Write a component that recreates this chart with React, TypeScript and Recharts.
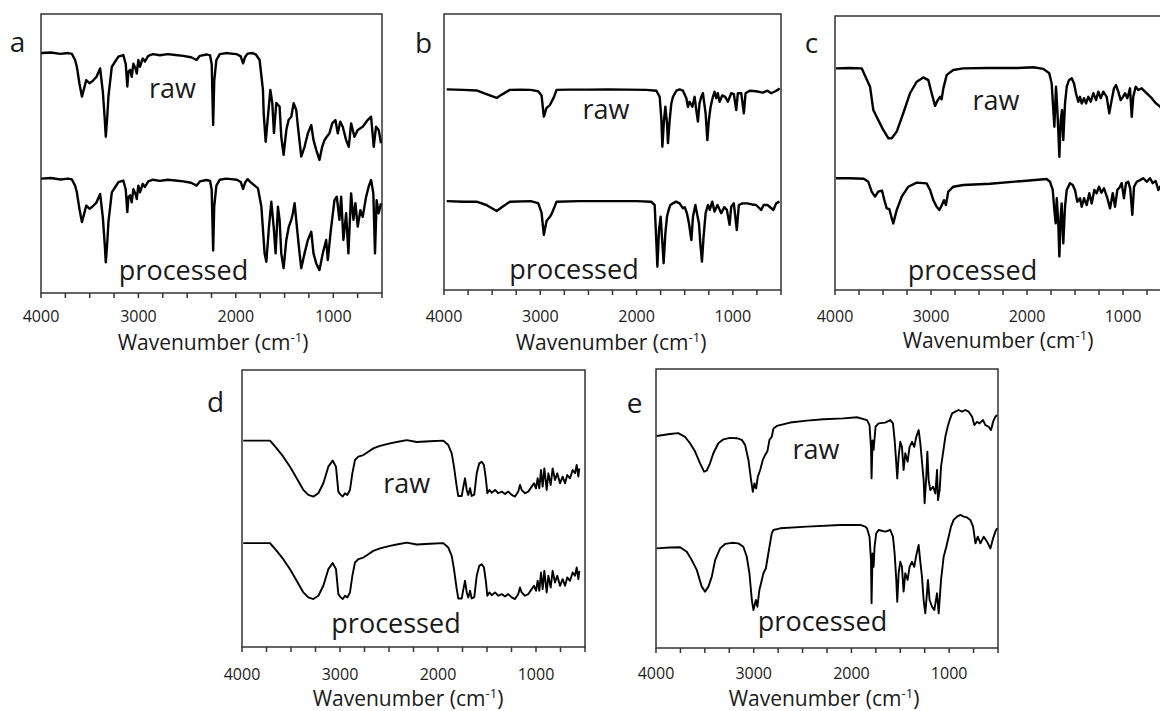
import React from "react";
import { LineChart, Line, XAxis, YAxis, ReferenceArea } from "recharts";

// wavenumber (cm-1) vs transmittance (offset, arbitrary units, 0-100 per panel box)
const TICKS = [500, 750, 1000, 1250, 1500, 1750, 2000, 2250, 2500, 2750, 3000, 3250, 3500, 3750, 4000];

const A_RAW: [number, number][] = [
  [3997, 86], [3900, 86.2], [3800, 85.7], [3720, 86], [3683, 85.7], [3650, 83.5], [3632, 81.1], [3605, 75], [3580, 70.4],
  [3560, 73], [3536, 76.3], [3503, 75.2], [3470, 76], [3430, 77.5], [3393, 80.5], [3365, 72], [3345, 62], [3335, 56],
  [3320, 63], [3308, 70.4], [3273, 81.1], [3206, 84.7], [3155, 85.3], [3130, 82], [3114, 74], [3103, 79.3], [3085, 80],
  [3069, 77.5], [3052, 82.2], [3030, 80.5], [3017, 78.7], [3001, 83.5], [2984, 81.1], [2956, 84.1], [2933, 83], [2899, 85],
  [2850, 85.6], [2780, 85.2], [2700, 85.6], [2620, 85.3], [2540, 85], [2460, 84.5], [2403, 83.5], [2370, 85], [2300, 85.5],
  [2265, 85.2], [2248, 82], [2233, 60.2], [2222, 76], [2200, 83.5], [2165, 85.6], [2100, 86], [2050, 85.8], [1990, 85.6],
  [1950, 84.8], [1926, 82.3], [1905, 84.6], [1880, 85.8], [1830, 86], [1795, 85.5], [1756, 83.5], [1722, 72.8], [1714, 64.2],
  [1694, 54.2], [1671, 63.2], [1646, 72.8], [1626, 68.1], [1609, 57.3], [1585, 68.1], [1551, 66.8], [1534, 56], [1510, 49.5],
  [1482, 58.4], [1459, 62], [1431, 63.2], [1407, 68], [1380, 65.6], [1363, 59.6], [1329, 48.9], [1295, 52.4], [1261, 57.2],
  [1226, 60.2], [1203, 54.8], [1175, 51.3], [1142, 47.7], [1114, 52.4], [1090, 54.8], [1067, 56], [1040, 57.2], [1011, 60.8],
  [978, 62], [954, 57.2], [929, 61.4], [903, 59.6], [868, 54.8], [841, 52.4], [817, 60.8], [783, 56], [749, 58.4], [698, 59.6],
  [647, 62], [612, 63.2], [585, 52.4], [561, 59.6], [534, 58.4], [510, 53.7],
];
const A_PROC: [number, number][] = [
  [3997, 41], [3900, 41.2], [3800, 40.7], [3720, 41], [3683, 40.7], [3650, 38.5], [3632, 36.1], [3605, 30], [3580, 25.4],
  [3560, 28], [3536, 31.3], [3503, 30.2], [3470, 31], [3430, 32.5], [3393, 35.5], [3365, 27], [3345, 17], [3335, 11],
  [3320, 18], [3308, 25.4], [3273, 36.1], [3206, 39.7], [3155, 40.3], [3130, 37], [3114, 29], [3103, 34.3], [3085, 35],
  [3069, 32.5], [3052, 37.2], [3030, 35.5], [3017, 33.7], [3001, 38.5], [2984, 36.1], [2956, 39.1], [2933, 38], [2899, 40],
  [2850, 40.6], [2780, 40.2], [2700, 40.6], [2620, 40.3], [2540, 40], [2460, 39.5], [2403, 38.5], [2370, 40], [2300, 40.5],
  [2265, 40.2], [2248, 37], [2233, 15.2], [2222, 31], [2200, 38.5], [2165, 40.6], [2100, 41], [2050, 40.8], [1990, 40.6],
  [1950, 39.8], [1926, 37.3], [1905, 39.6], [1880, 40.8], [1858, 40], [1773, 37.5], [1738, 30.9], [1705, 14.2], [1687, 11.2],
  [1660, 23.8], [1636, 32.7], [1612, 23.8], [1592, 14.2], [1568, 30.9], [1551, 26.2], [1534, 14.2], [1510, 8.9], [1482, 19],
  [1456, 23.8], [1431, 26.2], [1415, 28.6], [1397, 32.2], [1374, 23.8], [1346, 14.2], [1329, 8.9], [1295, 14.2], [1261, 19],
  [1226, 22], [1203, 14.2], [1175, 10.6], [1142, 8.2], [1108, 14.2], [1073, 19], [1056, 11.8], [1029, 21.4], [988, 33.3],
  [964, 34.5], [937, 26.2], [919, 34.5], [896, 19], [868, 28.6], [845, 14.2], [817, 35.7], [793, 26.2], [773, 32.2],
  [749, 23.8], [722, 29.7], [698, 27.3], [663, 34.5], [637, 38.1], [612, 40.5], [589, 35.7], [572, 14.2], [555, 33.3],
  [534, 28.6], [510, 32.2],
];

const B_RAW: [number, number][] = [
  [3972, 72.7], [3800, 72.5], [3661, 72.3], [3560, 71], [3453, 69.6], [3400, 70.8], [3316, 72.5], [3200, 72.6], [3100, 72.5],
  [3022, 72], [2987, 70.5], [2963, 62.8], [2935, 66], [2900, 67], [2883, 68.2], [2859, 69.8], [2831, 72.5], [2700, 72.6],
  [2500, 72.6], [2300, 72.7], [2100, 72.6], [1900, 72.5], [1794, 72.2], [1760, 70], [1742, 61.6], [1732, 51.9], [1715, 61.6],
  [1701, 66.4], [1684, 60.4], [1674, 53.2], [1656, 61.6], [1639, 67.6], [1622, 70], [1587, 72.2], [1553, 72.7], [1518, 72.2],
  [1483, 69.5], [1467, 66.4], [1449, 68.2], [1421, 66.4], [1397, 70], [1380, 65.2], [1363, 61], [1346, 67.6], [1328, 70],
  [1311, 71.3], [1283, 64], [1265, 54.3], [1249, 61.6], [1231, 66.4], [1207, 70], [1190, 71.8], [1172, 69.5], [1156, 71.3],
  [1138, 68.2], [1110, 70.5], [1080, 70], [1052, 68.2], [1017, 71.3], [990, 71], [965, 65.2], [948, 71.3], [913, 71.3],
  [886, 64], [868, 71.3], [827, 72.2], [760, 72], [689, 71.5], [640, 72.2], [602, 71.3], [560, 72], [533, 72.5], [516, 73.1],
];
const B_PROC: [number, number][] = [
  [3972, 32.2], [3800, 32], [3661, 32], [3560, 30.8], [3453, 28.6], [3400, 30], [3316, 32], [3100, 32.2], [3022, 31.5],
  [2987, 28], [2963, 20], [2935, 25], [2900, 26.5], [2883, 27.5], [2859, 29.5], [2831, 32], [2600, 32.2], [2300, 32.2],
  [2000, 32.2], [1850, 32], [1812, 30.8], [1794, 16.9], [1784, 8.4], [1767, 21.7], [1750, 26.6], [1732, 16.9], [1719, 9.7],
  [1701, 20.5], [1684, 26.6], [1667, 29], [1649, 30.8], [1622, 31.4], [1590, 32], [1553, 31.4], [1518, 29.6], [1500, 30],
  [1477, 27.8], [1456, 24.2], [1431, 18.1], [1414, 26.6], [1389, 30.8], [1373, 27.8], [1352, 24.2], [1338, 16.9], [1321, 10.3],
  [1304, 19.3], [1283, 27.8], [1259, 30.8], [1240, 29], [1214, 32], [1190, 28.4], [1160, 30.8], [1120, 27.8], [1090, 30],
  [1062, 29], [1034, 23.6], [1017, 30.2], [990, 31.4], [959, 21.7], [938, 30.8], [900, 31.4], [850, 31.4], [800, 31],
  [758, 30.8], [706, 29], [680, 30.8], [640, 30.8], [579, 29], [550, 31.4], [516, 32],
];

const C_RAW: [number, number][] = [
  [3990, 80.9], [3850, 81], [3722, 80.9], [3635, 74.2], [3601, 65.7], [3549, 62], [3497, 58.4], [3445, 55.4], [3409, 55.4],
  [3357, 57.8], [3289, 64.5], [3219, 71.8], [3149, 76], [3080, 77.6], [3028, 76.6], [2993, 71.8], [2958, 67.2], [2934, 69],
  [2906, 70.5], [2889, 69.6], [2872, 73.5], [2836, 78.5], [2768, 80.3], [2664, 80.9], [2400, 81], [2100, 81], [1934, 81.3],
  [1830, 80.7], [1768, 79.1], [1743, 75.4], [1726, 65.7], [1715, 59.6], [1698, 74.2], [1684, 65.7], [1670, 54.7], [1663, 48.6],
  [1649, 62], [1635, 65.7], [1622, 54.7], [1604, 68.1], [1586, 74.2], [1563, 76.6], [1534, 77.3], [1510, 75.4], [1490, 71.8],
  [1466, 68.7], [1448, 70.5], [1430, 68.1], [1406, 70], [1385, 68.1], [1361, 70.5], [1336, 68.7], [1309, 71.8], [1281, 69.3],
  [1257, 72.4], [1232, 70], [1205, 72.4], [1170, 70.5], [1143, 64.5], [1118, 69.3], [1094, 73.6], [1073, 74.8], [1049, 72.4],
  [1024, 69.3], [1000, 70.5], [979, 71.8], [955, 70], [927, 73.6], [909, 63.2], [893, 70.5], [868, 74.2], [841, 73],
  [805, 73.6], [771, 72.4], [736, 71.2], [701, 70], [656, 68.1], [614, 66.9], [590, 66],
];
const C_PROC: [number, number][] = [
  [3990, 40.8], [3850, 40.8], [3700, 40.6], [3653, 39.5], [3618, 35.9], [3583, 34.1], [3549, 35.9], [3510, 36.3], [3486, 32.8],
  [3461, 29.8], [3434, 29.5], [3409, 26.2], [3393, 24.3], [3357, 29.2], [3305, 34.1], [3236, 37.7], [3149, 39.2], [3045, 38.9],
  [3010, 36.5], [2976, 32.8], [2941, 30.4], [2913, 29.2], [2889, 30.8], [2865, 32.8], [2845, 31], [2820, 35.9], [2768, 37.7],
  [2664, 38.3], [2385, 38.8], [2038, 39.8], [1795, 40.5], [1760, 39.5], [1732, 36.5], [1715, 29.2], [1701, 24.3], [1690, 33.5],
  [1674, 24.3], [1663, 12.2], [1649, 26.8], [1639, 31.6], [1622, 17], [1604, 30.4], [1586, 36.5], [1552, 39], [1524, 38.3],
  [1500, 36.5], [1476, 32.2], [1448, 33.5], [1430, 30.4], [1406, 33.5], [1378, 31], [1351, 35.3], [1326, 31.6], [1299, 36.5],
  [1275, 35.3], [1250, 37.7], [1225, 35.5], [1198, 37.1], [1163, 33.5], [1135, 29.8], [1107, 35.3], [1083, 30.4], [1059, 36.5],
  [1035, 37.5], [1014, 39], [990, 33.5], [969, 39], [945, 39.5], [925, 37], [903, 27.4], [885, 37.7], [857, 39.5], [823, 40.1],
  [788, 40.8], [753, 39.5], [719, 40.8], [691, 39], [660, 39.8], [632, 36.5], [614, 37.7], [590, 38],
];

const D_RAW: [number, number][] = [
  [3987, 74.5], [3850, 74.5], [3714, 74.5], [3646, 71.7], [3579, 68.7], [3510, 65.1], [3442, 60.9], [3374, 56.7], [3323, 54.9],
  [3272, 54.3], [3221, 55.5], [3170, 59.1], [3119, 65.1], [3075, 67.3], [3041, 65.1], [3017, 56.1], [3000, 55.2], [2972, 54.3],
  [2949, 55.5], [2926, 54.9], [2898, 56.7], [2874, 62.7], [2847, 67.5], [2813, 68.7], [2762, 69.3], [2711, 70.5], [2660, 71.7],
  [2592, 72.6], [2490, 73.5], [2421, 74], [2319, 74.7], [2217, 74], [2082, 74.3], [1946, 74.5], [1895, 72.9], [1860, 69.9],
  [1837, 65.1], [1809, 57.9], [1793, 54.5], [1758, 54.5], [1741, 57.9], [1724, 60.9], [1707, 56.7], [1691, 54.9], [1673, 57.3],
  [1656, 54.5], [1630, 55], [1605, 62.7], [1579, 66.3], [1554, 66.9], [1531, 65.7], [1510, 60.3], [1497, 55.5], [1476, 56.7],
  [1452, 55.7], [1418, 56.7], [1385, 55.5], [1350, 56.1], [1316, 55.2], [1283, 56.1], [1248, 54.9], [1214, 54.3], [1181, 56.1],
  [1163, 58.5], [1146, 56.7], [1112, 55.5], [1079, 56.1], [1044, 57.9], [1020, 59.1], [1000, 57.3], [983, 60.9], [966, 57.3],
  [949, 63.9], [932, 57.9], [915, 64.5], [891, 56.7], [874, 62.7], [850, 58.5], [830, 64.5], [806, 60.3], [783, 62.7],
  [755, 59.1], [728, 61.5], [704, 59.1], [681, 62.1], [653, 60.9], [626, 63.9], [602, 62.7], [585, 65.7], [568, 61.5], [558, 64.5],
];
const D_PROC: [number, number][] = [
  [3987, 37.5], [3850, 37.5], [3714, 37.5], [3646, 34.7], [3579, 31.7], [3510, 28.1], [3442, 23.9], [3374, 19.7], [3323, 17.9],
  [3272, 17.3], [3221, 18.5], [3170, 22.1], [3119, 28.1], [3075, 30.3], [3041, 28.1], [3017, 19.1], [3000, 18.2], [2972, 17.3],
  [2949, 18.5], [2926, 17.9], [2898, 19.7], [2874, 25.7], [2847, 30.5], [2813, 31.7], [2762, 32.3], [2711, 33.5], [2660, 34.7],
  [2592, 35.6], [2490, 36.5], [2421, 37], [2319, 37.7], [2217, 37], [2082, 37.3], [1946, 37.5], [1895, 35.9], [1860, 32.9],
  [1837, 28.1], [1809, 20.9], [1793, 17.5], [1758, 17.5], [1741, 20.9], [1724, 23.9], [1707, 19.7], [1691, 17.9], [1673, 20.3],
  [1656, 17.5], [1630, 18], [1605, 25.7], [1579, 29.3], [1554, 29.9], [1531, 28.7], [1510, 23.3], [1497, 18.5], [1476, 19.7],
  [1452, 18.7], [1418, 19.7], [1385, 18.5], [1350, 19.1], [1316, 18.2], [1283, 19.1], [1248, 17.9], [1214, 17.3], [1181, 19.1],
  [1163, 21.5], [1146, 19.7], [1112, 18.5], [1079, 19.1], [1044, 20.9], [1020, 22.1], [1000, 20.3], [983, 23.9], [966, 20.3],
  [949, 26.9], [932, 20.9], [915, 27.5], [891, 19.7], [874, 25.7], [850, 21.5], [830, 27.5], [806, 23.3], [783, 25.7],
  [755, 22.1], [728, 24.5], [704, 22.1], [681, 25.1], [653, 23.9], [626, 26.9], [602, 25.7], [585, 28.7], [568, 24.5], [558, 27.5],
];

const E_RAW: [number, number][] = [
  [3993, 76], [3857, 76.7], [3772, 77], [3703, 75.7], [3652, 73.4], [3600, 70.4], [3549, 66.2], [3508, 63.2], [3481, 63.6],
  [3447, 66.2], [3413, 69.8], [3362, 73.4], [3310, 74.8], [3242, 75.3], [3173, 75.2], [3122, 74.6], [3088, 72.8], [3054, 67.4],
  [3027, 60.2], [3009, 56], [2993, 59], [2975, 57.2], [2958, 61.4], [2934, 63.8], [2907, 67.4], [2883, 69.2], [2860, 70.5],
  [2839, 74.6], [2815, 75.7], [2798, 78.7], [2763, 79.6], [2627, 80.8], [2456, 81.5], [2286, 82], [2081, 82.3], [1944, 82.7],
  [1841, 81.7], [1815, 79.9], [1800, 72.1], [1794, 60.8], [1784, 74.4], [1773, 71], [1763, 75.2], [1753, 79.3], [1722, 80.5],
  [1654, 80.8], [1602, 81.7], [1575, 80.5], [1558, 74.6], [1541, 66.2], [1531, 60.8], [1517, 68.6], [1500, 73.9], [1483, 72.1],
  [1466, 63.8], [1449, 69.8], [1425, 66.8], [1405, 72.1], [1380, 73.9], [1357, 72.1], [1336, 75.7], [1312, 78.1], [1295, 73.4],
  [1278, 66.8], [1261, 60.2], [1251, 51.9], [1234, 61.4], [1223, 70.4], [1210, 60.2], [1193, 56.6], [1165, 57.8], [1141, 55.4],
  [1124, 63.8], [1114, 53], [1097, 56.6], [1083, 65], [1063, 69.8], [1039, 75.7], [1015, 79.3], [995, 81.7], [970, 84.1],
  [936, 84.7], [903, 85.3], [868, 84.7], [834, 85.3], [800, 84.7], [765, 82.9], [742, 79.9], [714, 81.1], [690, 80.5],
  [653, 81.7], [629, 79.9], [595, 79.3], [571, 78.1], [550, 81.1], [527, 82.9], [509, 83.5],
];
const E_PROC: [number, number][] = [
  [3993, 35.7], [3857, 36], [3754, 36.1], [3685, 34.5], [3634, 31.5], [3583, 28], [3532, 22], [3498, 20.2], [3464, 22],
  [3429, 25.6], [3395, 31.5], [3344, 35.7], [3293, 37.3], [3224, 37.7], [3157, 37.5], [3106, 36.3], [3071, 32.7], [3044, 26.8],
  [3019, 17.2], [3003, 13.6], [2978, 17.2], [2962, 14.8], [2942, 20.8], [2917, 24.4], [2901, 26.8], [2876, 28.5], [2856, 32.7],
  [2839, 36.3], [2815, 41.1], [2798, 42.3], [2729, 42.9], [2456, 43.5], [2115, 44.1], [1910, 44.1], [1859, 43.5], [1841, 42.9],
  [1815, 39.9], [1800, 31.5], [1794, 16], [1784, 33.9], [1773, 29.1], [1763, 36.3], [1746, 41.1], [1722, 42.3], [1654, 41.7],
  [1602, 42.3], [1575, 39.9], [1558, 33.9], [1541, 24.4], [1531, 16.6], [1517, 26.8], [1500, 30.9], [1483, 29.1], [1466, 20.2],
  [1449, 26.8], [1425, 24.4], [1405, 29.1], [1380, 30.9], [1357, 29.1], [1336, 33.3], [1312, 36.9], [1295, 30.9], [1278, 25.6],
  [1261, 17.2], [1244, 12.4], [1227, 19.6], [1217, 24.4], [1200, 17.2], [1175, 14.8], [1152, 13.6], [1124, 19.6], [1107, 12.4],
  [1083, 24.4], [1056, 32.7], [1029, 36.3], [1005, 39.9], [981, 43.5], [954, 45.9], [919, 47.1], [885, 47.7], [851, 47.1],
  [817, 46.8], [783, 45.9], [755, 43.5], [731, 37.5], [707, 39.9], [680, 37.5], [646, 39.9], [612, 38.1], [578, 35.7],
  [550, 39.3], [527, 41.7], [509, 42.9],
];

const FONT = '"Open Sans", "Noto Sans", sans-serif';
const INK = "#1a1a1a";

const toPts = (arr: [number, number][]) => arr.map(([wn, v]) => ({ wn, v }));

type PanelCfg = {
  key: string; x: number; y: number; w: number; h: number; tm: number; sw: number;
  raw: [number, number][]; proc: [number, number][];
};

// plot box position (px) for each sub-figure
const PANELS: PanelCfg[] = [
  { key: "a", x: 41, y: 14, w: 341, h: 279, tm: 13, sw: 2.4, raw: A_RAW, proc: A_PROC },
  { key: "b", x: 444, y: 14, w: 337, h: 276, tm: 16, sw: 2.4, raw: B_RAW, proc: B_PROC },
  { key: "c", x: 835, y: 16, w: 336, h: 274, tm: 16, sw: 2.4, raw: C_RAW, proc: C_PROC },
  { key: "d", x: 242, y: 370, w: 343, h: 277, tm: 17, sw: 1.9, raw: D_RAW, proc: D_PROC },
  { key: "e", x: 656, y: 369, w: 342, h: 279, tm: 15, sw: 1.9, raw: E_RAW, proc: E_PROC },
];

// annotation text: [text, centerX, baselineY]
const LETTERS: [string, number, number][] = [
  ["a", 17.5, 52], ["b", 423.5, 53], ["c", 811.5, 53], ["d", 215.5, 412], ["e", 634.5, 413],
];
const TRACE_LABELS: [string, number, number][] = [
  ["raw", 172.5, 98], ["processed", 183.5, 279.5],
  ["raw", 606, 119], ["processed", 574, 278.5],
  ["raw", 996, 110], ["processed", 972.5, 280],
  ["raw", 406.7, 492.7], ["processed", 396, 632.7],
  ["raw", 816, 459.3], ["processed", 822.5, 630.7],
];
const AXIS_TITLES: [number, number][] = [
  [213, 350], [611, 350], [998, 348], [408, 706], [824, 706],
];

function Panel({ p }: { p: PanelCfg }) {
  const ml = 24, mt = 6, axisH = 40;
  return (
    <div style={{ position: "absolute", left: p.x - ml, top: p.y - mt }}>
      <LineChart width={p.w + ml * 2} height={p.h + mt + axisH} margin={{ top: mt, right: ml, left: ml, bottom: 0 }}>
        <XAxis
          type="number"
          dataKey="wn"
          domain={[500, 4000]}
          reversed
          allowDataOverflow
          ticks={TICKS}
          interval={0}
          height={axisH}
          tickSize={5}
          tickMargin={p.tm}
          axisLine={false}
          tickLine={{ stroke: "#333", strokeWidth: 1.5 }}
          tick={{ fontSize: 16, fill: INK, fontFamily: FONT }}
          tickFormatter={(v) => (Number(v) % 1000 === 0 ? String(v) : "")}
        />
        <YAxis hide type="number" domain={[0, 100]} allowDataOverflow />
        <ReferenceArea x1={500} x2={4000} y1={0} y2={100} fill="none" fillOpacity={0} stroke="#333" strokeWidth={1.5} ifOverflow="visible" />
        <Line data={toPts(p.raw)} dataKey="v" type="linear" stroke="#000" strokeWidth={p.sw} strokeLinejoin="round" dot={false} isAnimationActive={false} />
        <Line data={toPts(p.proc)} dataKey="v" type="linear" stroke="#000" strokeWidth={p.sw} strokeLinejoin="round" dot={false} isAnimationActive={false} />
      </LineChart>
    </div>
  );
}

export default function App() {
  return (
    <div style={{ position: "absolute", left: 0, top: 0, width: 1160, height: 711, overflow: "hidden", background: "#fff" }}>
      {PANELS.map((p) => (
        <Panel key={p.key} p={p} />
      ))}
      <svg width={1160} height={711} style={{ position: "absolute", left: 0, top: 0, pointerEvents: "none" }}>
        <g fontFamily={FONT} fill={INK} textAnchor="middle">
          {LETTERS.map(([t, x, y]) => (
            <text key={t} x={x} y={y} fontSize={28}>{t}</text>
          ))}
          {TRACE_LABELS.map(([t, x, y], i) => (
            <text key={i} x={x} y={y} fontSize={27}>{t}</text>
          ))}
          {AXIS_TITLES.map(([x, y], i) => (
            <text key={i} x={x} y={y} fontSize={21}>
              Wavenumber (cm<tspan fontSize={13} dy={-8}>-1</tspan><tspan dy={8}>)</tspan>
            </text>
          ))}
        </g>
      </svg>
    </div>
  );
}
